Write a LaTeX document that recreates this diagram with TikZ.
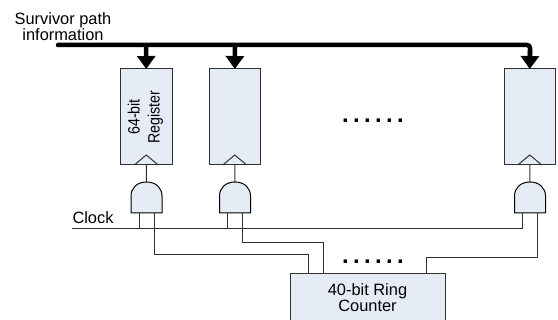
\documentclass[tikz,border=0pt]{standalone}
\usepackage{fontspec}
\usepackage{graphicx}
\setmainfont{Liberation Sans}
\usetikzlibrary{arrows.meta,calc}
\definecolor{boxfill}{HTML}{E6ECF6}
\definecolor{wirec}{HTML}{303030}
\tikzset{
  x=1pt,y=-1pt,
  regbox/.style={draw=wirec,fill=boxfill,line width=1pt,minimum width=51.5pt,minimum height=96pt,inner sep=0pt,outer sep=0pt,anchor=north west},
  counterbox/.style={draw=wirec,fill=boxfill,line width=1pt,minimum width=155pt,minimum height=60pt,inner sep=0pt,outer sep=0pt,anchor=north west},
  gatebox/.style={minimum width=31pt,minimum height=31pt,inner sep=0pt,outer sep=0pt,anchor=north west},
  gateshape/.style={draw=black,fill=boxfill,line width=1pt},
  clk/.style={draw=wirec,line width=1pt,line join=miter},
  wire/.style={draw=wirec,line width=1pt},
  bus/.style={draw=black,line width=4.5pt,line cap=round,rounded corners=3pt},
  busarrow/.style={draw=black,line width=4.5pt,-{Triangle[length=13pt,width=18pt]}},
  txt/.style={font=\fontsize{16.4pt}{16pt}\selectfont,inner sep=0pt,outer sep=0pt,align=center},
  rottxt/.style={font=\fontsize{16.4pt}{20pt}\selectfont,inner sep=0pt,outer sep=0pt,align=center,rotate=90},
  dots/.style={font=\bfseries\fontsize{24pt}{24pt}\selectfont,inner sep=0pt,outer sep=0pt,anchor=base}
}
\newcommand{\dotrow}{.\kern4.3pt.\kern4.3pt.\kern4.3pt.\kern4.3pt.\kern4.3pt.}
\newcommand{\gatedraw}[1]{%
  \path[gateshape] (#1.south west) -- ($(#1.south west)+(0,-17)$)
    .. controls ($(#1.north west)+(0,6)$) and ($(#1.north west)+(6,0)$) .. (#1.north)
    .. controls ($(#1.north east)+(-6,0)$) and ($(#1.north east)+(0,6)$) .. ($(#1.south east)+(0,-17)$)
    -- (#1.south east) -- cycle;}
\newcommand{\clkdraw}[1]{%
  \draw[clk] ($(#1.south)+(-12,0)$) -- ($(#1.south)+(0,-10)$) -- ($(#1.south)+(12,0)$);}
\begin{document}
\begin{tikzpicture}
\useasboundingbox (0,0) rectangle (558,320);
\clip (0,0) rectangle (558,320);
% registers
\node[regbox] (r1) at (120.5,69) {};
\node[regbox] (r2) at (209,69) {};
\node[regbox] (r3) at (504,69) {};
\clkdraw{r1}\clkdraw{r2}\clkdraw{r3}
\node[rottxt] (r1t) at (145.5,117) {\scalebox{0.87}[1]{64-bit}\\\scalebox{0.87}[1]{Register}};
% bus
\node[txt] (surv) at (63,26.5) {Survivor path\\information};
\coordinate (bs) at (58,45);
\coordinate (b1) at (146.2,45);
\coordinate (b2) at (235,45);
\coordinate (be) at (530,45);
\draw[bus] (bs) -- (be) -- (530,55);
\draw[busarrow] (b1) -- (r1.north);
\draw[busarrow] (b2) -- (r2.north);
\draw[busarrow] (530,50) -- (r3.north);
% gates
\node[gatebox] (g1) at (131,182) {};
\node[gatebox] (g2) at (219.5,182) {};
\node[gatebox] (g3) at (514.5,182) {};
\draw[wire] (r1.south) -- (g1.north);
\draw[wire] (r2.south) -- (g2.north);
\draw[wire] (r3.south) -- (g3.north);
\gatedraw{g1}\gatedraw{g2}\gatedraw{g3}
% counter
\node[counterbox] (cnt) at (290,274) {};
\node[txt] (cntt) at (367.5,297.5) {40-bit Ring\\Counter};
% clock
\node[txt,anchor=base west] (clk) at (72.5,223.5) {Clock};
\coordinate (cs) at (72,228.7);
\draw[wire] (cs) -- (522,228.7) -- (522,213);
\draw[wire] (139,213) -- (139,228.7);
\draw[wire] (227,213) -- (227,228.7);
% enables
\draw[wire] (154,213) |- (308.7,255) -- (308.7,274);
\draw[wire] (242.7,213) |- (323.3,242.3) -- (323.3,274);
\draw[wire] (537.7,213) |- (426.7,257.3) -- (426.7,274);
% dots
\node[dots] (d1) at (373,122.5) {\dotrow};
\node[dots] (d2) at (373,263.5) {\dotrow};
\end{tikzpicture}
\end{document}
